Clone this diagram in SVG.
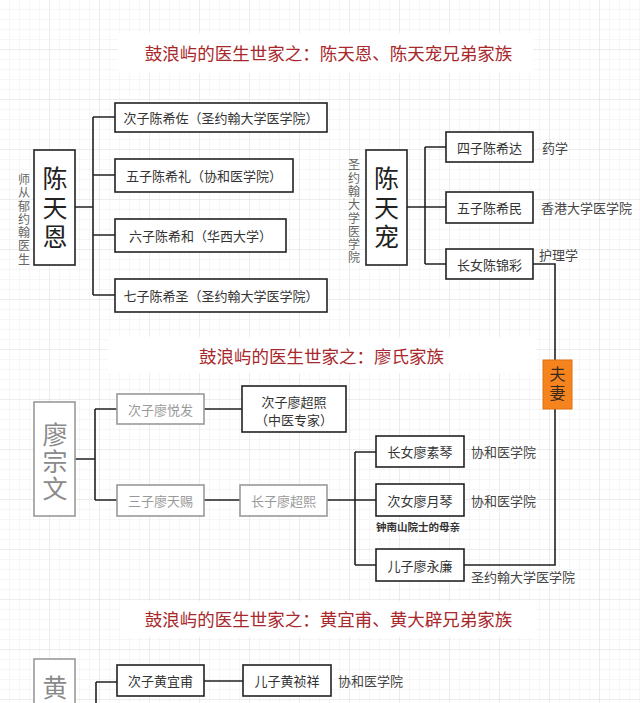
<svg xmlns="http://www.w3.org/2000/svg" width="640" height="703" viewBox="0 0 640 703">
<defs>
<pattern id="minor" width="10" height="10" patternUnits="userSpaceOnUse">
<path d="M10 0V10M0 10H10" fill="none" stroke="#eeeeee" stroke-width="1"/>
</pattern>
<pattern id="major" width="50" height="50" patternUnits="userSpaceOnUse">
<path d="M50 0V50M0 50H50" fill="none" stroke="#e1e1e1" stroke-width="1"/>
</pattern>
</defs>
<style>
text{font-family:"Noto Sans CJK SC","Noto Sans",sans-serif;}
.title{font-size:17.5px;fill:#a8282c;text-anchor:middle;dominant-baseline:central;}
.box{fill:#fff;stroke:#222;stroke-width:1.6;}
.gbox{fill:#fff;stroke:#9a9a9a;stroke-width:1.6;}
.bt{font-size:13px;fill:#333;text-anchor:middle;dominant-baseline:central;}
.gt{font-size:13px;fill:#999;text-anchor:middle;dominant-baseline:central;}
.lbl{font-size:13px;fill:#444;dominant-baseline:central;}
.vert{writing-mode:vertical-rl;text-anchor:middle;}
.side{font-size:12px;fill:#666;letter-spacing:1.3px;}
.big{font-size:25px;fill:#222;letter-spacing:4px;}
.gbig{font-size:25px;fill:#8a8a8a;letter-spacing:2px;}
.conn{fill:none;stroke:#222;stroke-width:1.6;}
</style>
<rect width="640" height="703" fill="#fff"/>
<rect width="640" height="703" fill="url(#minor)"/>
<rect width="640" height="703" fill="url(#major)"/>

<g id="titles">
<rect x="118" y="33" width="415" height="40" fill="#fff"/>
<text class="title" x="328.5" y="52">鼓浪屿的医生世家之：陈天恩、陈天宠兄弟家族</text>
<rect x="108" y="337" width="428" height="36" fill="#fff"/>
<text class="title" x="321.5" y="355">鼓浪屿的医生世家之：廖氏家族</text>
<rect x="120" y="601" width="415" height="36" fill="#fff"/>
<text class="title" x="328.5" y="618">鼓浪屿的医生世家之：黄宜甫、黄大辟兄弟家族</text>
</g>

<g id="connectors">
<path class="conn" d="M75 207H93M93 117V295M93 117H115M93 175H115M93 235H115M93 295H115"/>
<path class="conn" d="M407 207H425M425 147V264M425 147H446M425 207H446M425 264H446"/>
<path class="conn" d="M533 264H555V360M555 409V565H464"/>
<path class="conn" d="M75 459H95M95 409V500M95 409H117M95 500H117M204 409H242M204 500H240M327 500H376M355 452V565M355 452H376M355 565H376"/>
<path class="conn" d="M96 682V703M96 682H117M204 681H243"/>
</g>

<g id="chen-tianen">
<rect class="box" x="34" y="150" width="41" height="115"/>
<text class="vert big" x="55" y="209">陈天恩</text>
<text class="vert side" x="24" y="220">师从郁约翰医生</text>
</g>
<g id="chen-xizuo"><rect class="box" x="115" y="103" width="212" height="29"/><text class="bt" x="221" y="117.5">次子陈希佐（圣约翰大学医学院）</text></g>
<g id="chen-xili"><rect class="box" x="115" y="159" width="178" height="33"/><text class="bt" x="204" y="175.5">五子陈希礼（协和医学院）</text></g>
<g id="chen-xihe"><rect class="box" x="115" y="219" width="171" height="33"/><text class="bt" x="200.5" y="235.5">六子陈希和（华西大学）</text></g>
<g id="chen-xisheng"><rect class="box" x="115" y="279" width="212" height="33"/><text class="bt" x="221" y="295.5">七子陈希圣（圣约翰大学医学院）</text></g>

<g id="chen-tianchong">
<rect class="box" x="366" y="150" width="41" height="115"/>
<text class="vert big" x="386.5" y="209">陈天宠</text>
<text class="vert side" x="354" y="212">圣约翰大学医学院</text>
</g>
<g id="chen-xida"><rect class="box" x="446" y="132" width="87" height="30"/><text class="bt" x="489.5" y="147">四子陈希达</text><text class="lbl" x="542" y="147">药学</text></g>
<g id="chen-ximin"><rect class="box" x="446" y="192" width="87" height="31"/><text class="bt" x="489.5" y="207.5">五子陈希民</text><text class="lbl" x="541" y="207.5">香港大学医学院</text></g>
<g id="chen-jincai"><rect class="box" x="446" y="249" width="87" height="30"/><text class="bt" x="489.5" y="264">长女陈锦彩</text><text class="lbl" x="539" y="254">护理学</text></g>

<g id="fuqi"><rect x="543" y="360" width="29" height="49" fill="#f5841f" stroke="#e07010" stroke-width="1"/><text class="vert" x="557.5" y="385" style="font-size:16px;fill:#3a2a1a;letter-spacing:3px;">夫妻</text></g>

<g id="liao-zongwen">
<rect class="gbox" x="34" y="402" width="41" height="114"/>
<text class="vert gbig" x="55" y="462">廖宗文</text>
</g>
<g id="liao-yuefa"><rect class="gbox" x="117" y="394" width="87" height="30"/><text class="gt" x="160.5" y="409">次子廖悦发</text></g>
<g id="liao-chaozhao"><rect class="box" x="242" y="386" width="104" height="46"/><text class="bt" x="294" y="401">次子廖超照</text><text class="bt" x="294" y="419">（中医专家）</text></g>
<g id="liao-tianci"><rect class="gbox" x="117" y="485" width="87" height="31"/><text class="gt" x="160.5" y="500.5">三子廖天赐</text></g>
<g id="liao-chaoxi"><rect class="gbox" x="240" y="485" width="87" height="31"/><text class="gt" x="283.5" y="500.5">长子廖超熙</text></g>
<g id="liao-suqin"><rect class="box" x="376" y="436" width="88" height="31"/><text class="bt" x="420" y="451.5">长女廖素琴</text><text class="lbl" x="471" y="451.5">协和医学院</text></g>
<g id="liao-yueqin"><rect class="box" x="376" y="484" width="88" height="32"/><text class="bt" x="420" y="500">次女廖月琴</text><text class="lbl" x="471" y="500">协和医学院</text><text x="376" y="531" style="font-size:10.5px;font-weight:bold;fill:#333;">钟南山院士的母亲</text></g>
<g id="liao-yonglian"><rect class="box" x="376" y="549" width="88" height="32"/><text class="bt" x="420" y="565">儿子廖永廉</text><text class="lbl" x="471" y="576.5">圣约翰大学医学院</text></g>

<g id="huang">
<rect class="gbox" x="34" y="659" width="41" height="60"/>
<text class="vert gbig" x="55" y="688">黄</text>
</g>
<g id="huang-yifu"><rect class="box" x="117" y="665" width="87" height="31"/><text class="bt" x="160.5" y="680.5">次子黄宜甫</text></g>
<g id="huang-zhenxiang"><rect class="box" x="243" y="665" width="88" height="31"/><text class="bt" x="287" y="680.5">儿子黄祯祥</text><text class="lbl" x="338" y="680.5">协和医学院</text></g>
</svg>
